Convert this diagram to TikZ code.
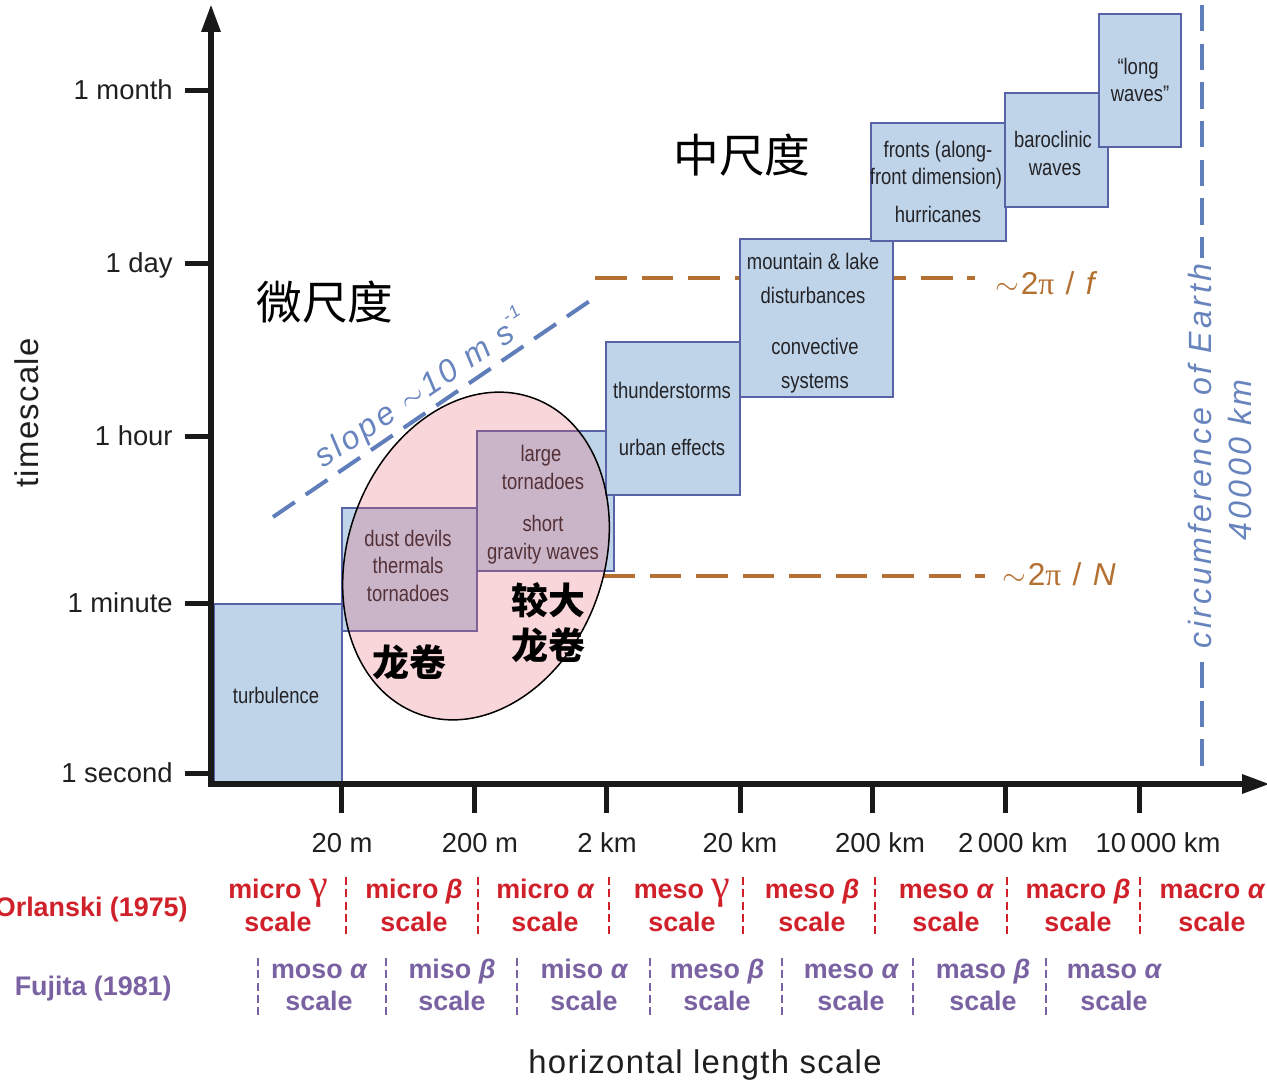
\documentclass[tikz,border=0pt]{standalone}
\usepackage{fontspec}
\setmainfont{Liberation Sans}
\newfontfamily\condf[FakeStretch=0.82]{Liberation Sans}
\newfontfamily\serf{Liberation Serif}
\newfontfamily\spaced[LetterSpace=10]{Liberation Sans}
\newfontfamily\lspaced[LetterSpace=4]{Liberation Sans}
\newfontfamily\mspaced[LetterSpace=8]{Liberation Sans}
\newfontfamily\cjk{Noto Sans CJK SC}
\usetikzlibrary{arrows.meta}
\definecolor{boxfill}{RGB}{191,212,232}
\definecolor{boxline}{RGB}{88,98,166}
\definecolor{tornpink}{RGB}{232,91,104}
\definecolor{brn}{RGB}{180,112,48}
\definecolor{lineblue}{RGB}{96,126,186}
\definecolor{txtblue}{RGB}{104,132,190}
\definecolor{orlred}{RGB}{208,32,42}
\definecolor{fujpur}{RGB}{122,98,162}
\definecolor{boxtxt}{RGB}{35,35,40}
\newcommand\gmm{\smash{{\serf\mdseries\fontsize{24}{24}\selectfont γ}}}
\newcommand\bet{{\itshape β}}
\newcommand\alp{{\itshape α}}
\newcommand\tld{\ensuremath{\sim}\kern1pt}
\begin{document}
\begin{tikzpicture}[x=0.02cm,y=-0.02cm,
  box/.style={draw=boxline, fill=boxfill, line width=0.04cm, anchor=north west, inner sep=0pt},
  btxt/.style={text=boxtxt, font=\condf\fontsize{12.8}{15}\selectfont, inner sep=0pt, anchor=mid, yshift=-0.08cm},
  ax/.style={line width=0.12cm, black!90},
  tk/.style={line width=0.1cm, black!90},
  axlab/.style={font=\fontsize{15.6}{18}\selectfont, text=black!88, inner sep=0pt, yshift=-0.1cm},
  orl/.style={text=orlred, font=\bfseries\fontsize{15.3}{18}\selectfont, inner sep=0pt, anchor=mid, yshift=-0.1cm},
  fuj/.style={text=fujpur, font=\bfseries\fontsize{15.3}{18}\selectfont, inner sep=0pt, anchor=mid, yshift=-0.1cm},
  orlsep/.style={orlred, line width=0.035cm, dash pattern=on 4.5pt off 2.5pt},
  fujsep/.style={fujpur, line width=0.035cm, dash pattern=on 4.5pt off 2.5pt},
  brdash/.style={brn, line width=0.08cm, dash pattern=on 18pt off 8.5pt},
  bldash/.style={lineblue, line width=0.08cm, dash pattern=on 15pt off 7pt},
  bluetxt/.style={text=txtblue, font=\spaced\itshape\fontsize{18.3}{20}\selectfont},
  cjkbig/.style={font=\cjk\fontsize{26}{30}\selectfont, inner sep=0pt},
  cjkbold/.style={font=\cjk\bfseries\fontsize{21}{24}\selectfont, inner sep=0pt}
]
\useasboundingbox (0,0) rectangle (1267,1082);

% reference lines behind boxes
\coordinate (f1) at (595,278); \coordinate (f2) at (975,278);
\coordinate (n1) at (603,576); \coordinate (n2) at (985,576);
\draw[brdash] (f1) -- (f2);
\draw[brdash] (n1) -- (n2);
\node[text=brn, font=\mspaced\fontsize{18}{20}\selectfont, inner sep=0pt, anchor=mid, yshift=-0.13cm] (lf) at (1045,283) {\tld 2{\serf π} / {\itshape f}};
\node[text=brn, font=\mspaced\fontsize{18}{20}\selectfont, inner sep=0pt, anchor=mid, yshift=-0.13cm] (ln) at (1059,574) {\tld 2{\serf π} / {\itshape N}};

\coordinate (s1) at (273,517); \coordinate (s2) at (597,296);
\draw[lineblue, line width=0.08cm, dash pattern=on 15pt off 7.5pt] (s1) -- (s2);
\node[bluetxt, rotate=34, inner sep=0pt] (slope) at (421,389) {slope \tld 10 m s\raisebox{0.55em}{\fontsize{10}{10}\selectfont -1}};

% earth line
\coordinate (e1) at (1202,5); \coordinate (e2) at (1202,777);
\draw[bldash] (e1) -- (e2);
\node[bluetxt, rotate=90, fill=white, inner xsep=3pt, inner ysep=1pt] (circ) at (1200,456) {circumference of Earth};
\node[bluetxt, rotate=90, inner sep=0pt] (km) at (1240,460) {40000 km};

% boxes
\node[box, minimum width=2.56cm, minimum height=3.60cm] (turb) at (213,603) {};
\node[box, minimum width=2.70cm, minimum height=2.46cm] (dust) at (341,507) {};
\node[box, minimum width=2.74cm, minimum height=2.80cm] (large) at (476,430) {};
\node[box, minimum width=2.68cm, minimum height=3.06cm] (thun) at (605,341) {};
\node[box, minimum width=3.06cm, minimum height=3.16cm] (mount) at (739,238) {};
\node[box, minimum width=2.70cm, minimum height=2.36cm] (front) at (870,122) {};
\node[box, minimum width=2.06cm, minimum height=2.28cm] (baro) at (1004,92) {};
\node[box, minimum width=1.64cm, minimum height=2.66cm] (long) at (1098,13) {};

% box texts
\node[btxt] (t1) at (276,695) {turbulence};
\node[btxt] (t2) at (408,538) {dust devils};
\node[btxt] (t3) at (408,565) {thermals};
\node[btxt] (t4) at (408,593) {tornadoes};
\node[btxt] (t5) at (541,453) {large};
\node[btxt] (t6) at (543,481) {tornadoes};
\node[btxt] (t7) at (543,523) {short};
\node[btxt] (t8) at (543,551) {gravity waves};
\node[btxt] (t9) at (672,390) {thunderstorms};
\node[btxt] (t10) at (672,447) {urban effects};
\node[btxt] (t11) at (813,261) {mountain \& lake};
\node[btxt] (t12) at (813,295) {disturbances};
\node[btxt] (t13) at (815,346) {convective};
\node[btxt] (t14) at (815,380) {systems};
\node[btxt] (t15) at (938,149) {fronts (along-};
\node[btxt] (t16) at (936,176) {front dimension)};
\node[btxt] (t17) at (938,214) {hurricanes};
\node[btxt] (t18) at (1053,139) {baroclinic};
\node[btxt] (t19) at (1055,167) {waves};
\node[btxt] (t20) at (1138,66) {“long};
\node[btxt] (t21) at (1140,93) {waves”};

% tornado ellipse
\fill[tornpink, fill opacity=0.25, rotate around={-20:(476,556)}] (476,556) ellipse [x radius=128, y radius=168];
\draw[black, line width=0.03cm, rotate around={-20:(476,556)}] (476,556) ellipse [x radius=128, y radius=168];

% chinese labels
\node[cjkbig] (zh1) at (742,155) {中尺度};
\node[cjkbig] (zh2) at (325,302) {微尺度};
\node[cjkbold] (zh3) at (409,662) {龙卷};
\node[cjkbold] (zh4) at (548,600) {较大};
\node[cjkbold] (zh5) at (548,645) {龙卷};

% axes
\coordinate (ybot) at (211,787); \coordinate (ytop) at (211,4);
\coordinate (xl) at (208,784); \coordinate (xr) at (1270,784);
\draw[ax, -{Triangle[length=0.56cm,width=0.36cm]}] (ybot) -- (ytop);
\draw[ax, -{Triangle[length=0.56cm,width=0.36cm]}] (xl) -- (xr);

% y ticks and labels
\foreach \yy/\lab/\nm in {90/1 month/ym, 263/1 day/yd, 436/1 hour/yh, 603/1 minute/ymin, 773/1 second/ys}{
  \coordinate (\nm a) at (185,\yy); \coordinate (\nm b) at (211,\yy);
  \draw[tk] (\nm a) -- (\nm b);
  \node[axlab, anchor=mid east] (\nm) at (173,\yy) {\lab};
}
% x ticks
\foreach \xx/\nm in {341/xa, 474/xb, 606/xc, 740/xd, 872/xe, 1005/xf, 1139/xg}{
  \coordinate (\nm a) at (\xx,784); \coordinate (\nm b) at (\xx,813);
  \draw[tk] (\nm a) -- (\nm b);
}
\node[axlab, anchor=mid] (l1) at (342,843) {20 m};
\node[axlab, anchor=mid] (l2) at (480,843) {200 m};
\node[axlab, anchor=mid] (l3) at (607,843) {2 km};
\node[axlab, anchor=mid] (l4) at (740,843) {20 km};
\node[axlab, anchor=mid] (l5) at (880,843) {200 km};
\node[axlab, anchor=mid] (l6) at (1013,843) {2\,000 km};
\node[axlab, anchor=mid] (l7) at (1158,843) {10\,000 km};

\node[text=black!88, font=\lspaced\fontsize{18.7}{22}\selectfont, rotate=90, inner sep=0pt] (ts) at (27,413) {timescale};
\node[text=black!88, font=\lspaced\fontsize{18.7}{22}\selectfont, inner sep=0pt, anchor=mid, yshift=-0.14cm] (hs) at (705,1062) {horizontal length scale};

% Orlanski row
\node[orl, anchor=mid east] (orlname) at (188,907) {Orlanski (1975)};
\foreach \cx/\txt/\nm in {278/micro \gmm/o1, 414/micro \bet/o2, 545/micro \alp/o3, 682/meso \gmm/o4, 812/meso \bet/o5, 946/meso \alp/o6, 1078/macro \bet/o7, 1212/macro \alp/o8}{
  \node[orl] (\nm a) at (\cx,889) {\txt};
  \node[orl] (\nm b) at (\cx,922) {scale};
}
\foreach \sx/\nm in {346/r1,478/r2,609/r3,743/r4,875/r5,1007/r6,1140/r7}{
  \coordinate (\nm a) at (\sx,877); \coordinate (\nm b) at (\sx,935);
  \draw[orlsep] (\nm a) -- (\nm b);
}
% Fujita row
\node[fuj, anchor=mid east] (fujname) at (172,986) {Fujita (1981)};
\foreach \cx/\txt/\nm in {319/moso \alp/p1, 452/miso \bet/p2, 584/miso \alp/p3, 717/meso \bet/p4, 851/meso \alp/p5, 983/maso \bet/p6, 1114/maso \alp/p7}{
  \node[fuj] (\nm a) at (\cx,969) {\txt};
  \node[fuj] (\nm b) at (\cx,1001) {scale};
}
\foreach \sx/\nm in {258/q1,386/q2,517/q3,650/q4,782/q5,913/q6,1046/q7}{
  \coordinate (\nm a) at (\sx,958); \coordinate (\nm b) at (\sx,1017);
  \draw[fujsep] (\nm a) -- (\nm b);
}
\end{tikzpicture}
\end{document}
